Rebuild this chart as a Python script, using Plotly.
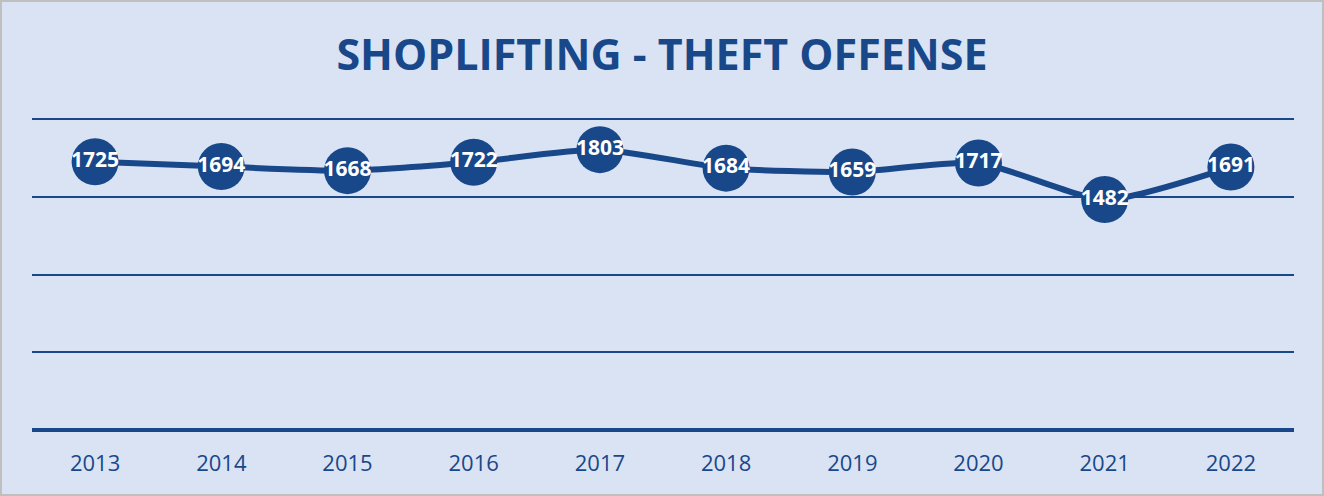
import plotly.graph_objects as go

years = ["2013", "2014", "2015", "2016", "2017", "2018", "2019", "2020", "2021", "2022"]
offenses = [1725, 1694, 1668, 1722, 1803, 1684, 1659, 1717, 1482, 1691]
labels = [str(v) for v in offenses]

NAVY = "#18488A"
BG = "#DAE3F3"
W, H = 1324, 496
L, R, T, B = 32, 30, 116, 66
pw, ph = W - L - R, H - T - B
YMAX = 2000 * 314 / 311

fig = go.Figure()
fig.add_trace(go.Scatter(
    x=years, y=offenses, text=labels,
    mode="lines+markers+text",
    line=dict(color=NAVY, width=6, shape="spline", smoothing=0.6),
    marker=dict(color=NAVY, size=47, line=dict(width=0)),
    textposition="middle center",
    textfont=dict(family="Open Sans", size=21, color="white", weight="bold"),
    cliponaxis=False,
    hoverinfo="x+y",
))

fig.update_layout(
    width=W, height=H,
    margin=dict(l=L, r=R, t=T, b=B),
    paper_bgcolor=BG, plot_bgcolor=BG,
    showlegend=False,
    title=dict(text="<b>SHOPLIFTING - THEFT OFFENSE</b>",
               x=0.5, xanchor="center", y=1 - 55 / H, yanchor="middle", yref="container",
               font=dict(family="Open Sans", size=43, color=NAVY)),
    xaxis=dict(range=[-0.5, 9.5], showgrid=False, zeroline=False, showline=False, ticks="",
               ticklabelstandoff=18,
               tickfont=dict(family="Open Sans", size=22, color=NAVY)),
    yaxis=dict(range=[0, YMAX], tickvals=[0, 500, 1000, 1500, 2000], showticklabels=False,
               showgrid=True, gridcolor=NAVY, gridwidth=1.5,
               zeroline=True, zerolinecolor=NAVY, zerolinewidth=4,
               showline=False, ticks=""),
    shapes=[dict(type="rect", xref="paper", yref="paper",
                 x0=-L / pw + 0.0008, x1=1 + R / pw - 0.0008,
                 y0=-B / ph + 0.003, y1=1 + T / ph - 0.003,
                 line=dict(color="#BFBFBF", width=2), layer="below")],
)

fig.write_html("out.html", config={"displayModeBar": False},
               post_script="document.body.style.margin='0';")
